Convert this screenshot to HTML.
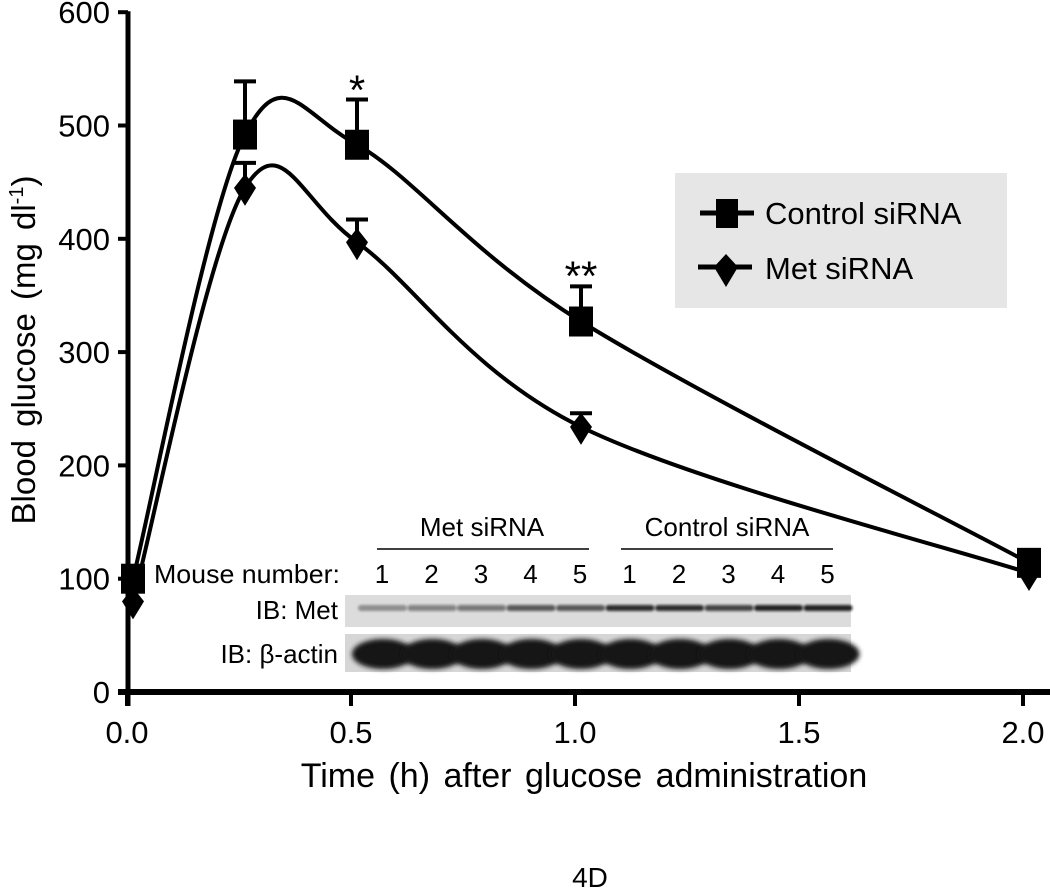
<!DOCTYPE html>
<html><head><meta charset="utf-8"><style>
html,body{margin:0;padding:0;background:#fff;}
svg{display:block;font-family:"Liberation Sans",Arial,sans-serif;}
</style></head><body>
<svg id="chart" width="1050" height="892" viewBox="0 0 1050 892">
<defs>
<filter id="blur1" x="-10%" y="-50%" width="120%" height="200%"><feGaussianBlur stdDeviation="1.4"/></filter>
<filter id="blur2" x="-10%" y="-50%" width="120%" height="200%"><feGaussianBlur stdDeviation="2.5"/></filter>
</defs>
<g id="axes"></g>
<g id="series"></g>
<g>
  <rect x="675" y="173" width="332" height="135" fill="#e6e6e6"/>
  <g>
    <line x1="700" y1="213" x2="754" y2="213" stroke="#000" stroke-width="5"/>
    <rect x="716" y="199" width="22" height="29" fill="#000"/>
    <text x="765" y="224" font-size="31">Control siRNA</text>
  </g>
  <g>
    <line x1="698" y1="267" x2="752" y2="267" stroke="#000" stroke-width="5"/>
    <path d="M726 254 L738 267 L726 287 L714 267 Z" fill="#000"/>
    <text x="765" y="279" font-size="31">Met siRNA</text>
  </g>
</g>
<g>
  <text x="482" y="536" font-size="26" text-anchor="middle">Met siRNA</text>
  <line x1="377" y1="549" x2="589" y2="549" stroke="#000" stroke-width="1.5"/>
  <text x="727" y="536" font-size="26" text-anchor="middle">Control  siRNA</text>
  <line x1="621" y1="549" x2="833" y2="549" stroke="#000" stroke-width="1.5"/>
  <text x="340" y="583" font-size="26" text-anchor="end" textLength="186" lengthAdjust="spacingAndGlyphs">Mouse number:</text>
  <g id="lanes"></g>
  <text x="338" y="619" font-size="26" text-anchor="end">IB: Met</text>
  <text x="338" y="663" font-size="26" text-anchor="end">IB: β-actin</text>
  <rect x="345" y="595" width="506" height="32" fill="#dcdcdc"/>
  <rect x="345" y="634" width="506" height="38" fill="#d6d6d6"/>
  <g id="bands"></g>
</g>
<text x="590" y="887" font-size="28" text-anchor="middle">4D</text>
</svg>
<script>
const times = [0, 0.25, 0.5, 1, 2];
const controlValues = [100, 492, 483, 327, 114];
const controlErr = [0, 47, 40, 31, 0];
const metValues = [80, 445, 397, 234, 105];
const metErr = [0, 22, 20, 12, 0];
const yTicks = [0, 100, 200, 300, 400, 500, 600];
const xTicks = [0, 0.5, 1, 1.5, 2];
const xTickLabels = ["0.0", "0.5", "1.0", "1.5", "2.0"];
const laneNumbers = ["1","2","3","4","5","1","2","3","4","5"];
const metBandIntensity = [0.35, 0.45, 0.5, 0.65, 0.65, 0.85, 0.85, 0.75, 0.9, 0.9];

const NS = "http://www.w3.org/2000/svg";
const X0 = 133, XS = 448, Y0 = 692, YS = 1.133;
function xs(t){ return X0 + t*XS; }
function ys(v){ return Y0 - v*YS; }
function mk(tag, attrs, parent){
  const e = document.createElementNS(NS, tag);
  for (const k in attrs) e.setAttribute(k, attrs[k]);
  parent.appendChild(e);
  return e;
}
const axes = document.getElementById('axes');
const series = document.getElementById('series');

let yl = mk('line', {x1:128, y1:ys(600)-1, x2:128, y2:ys(0)+14, stroke:'#000', 'stroke-width':5}, axes);


let xl = mk('line', {x1:118, y1:ys(0), x2:1050, y2:ys(0), stroke:'#000', 'stroke-width':6}, axes);


yTicks.forEach(v => {
  const tk = mk('line', {x1:118, y1:ys(v), x2:128, y2:ys(v), stroke:'#000', 'stroke-width':4}, axes);
  
  
  const t = mk('text', {x:110, y:ys(v)+11, 'font-size':31, 'text-anchor':'end'}, axes);
  t.textContent = String(v);
  
  
});
xTicks.forEach((v,i) => {
  const px = 127 + v*448;
  const tk = mk('line', {x1:px, y1:ys(0), x2:px, y2:ys(0)+14, stroke:'#000', 'stroke-width':4}, axes);
  
  
  const t = mk('text', {x:px, y:743, 'font-size':31, 'text-anchor':'middle'}, axes);
  t.textContent = xTickLabels[i];
  
  
});
let xt = mk('text', {x:584, y:787, 'font-size':34, 'text-anchor':'middle', 'word-spacing':'4'}, axes);
xt.textContent = 'Time (h) after glucose administration';


let ytt = mk('text', {x:0, y:0, 'font-size':33, 'text-anchor':'middle', 'word-spacing':'4', transform:'translate(35,350) rotate(-90)'}, axes);
ytt.innerHTML = 'Blood glucose (mg dl<tspan font-size="20" dy="-12">-1</tspan><tspan dy="12">)</tspan>';



function curvePath(vals){
  const pts = times.map((t,i)=>[xs(t), ys(vals[i])]);
  let d = `M${pts[0][0]},${pts[0][1]}`;
  for (let i=0;i<pts.length-1;i++){
    const p0 = pts[Math.max(0,i-1)], p1 = pts[i], p2 = pts[i+1], p3 = pts[Math.min(pts.length-1,i+2)];
    const k = 1/6;
    const c1 = [p1[0]+(p2[0]-p0[0])*k, p1[1]+(p2[1]-p0[1])*k];
    const c2 = [p2[0]-(p3[0]-p1[0])*k, p2[1]-(p3[1]-p1[1])*k];
    d += ` C${c1[0]},${c1[1]} ${c2[0]},${c2[1]} ${p2[0]},${p2[1]}`;
  }
  return d;
}
function drawSeries(vals, errs, shape, name){
  const p = mk('path', {d:curvePath(vals), fill:'none', stroke:'#000', 'stroke-width':4}, series);
  
  
  times.forEach((t,i) => {
    const cx = xs(t), cy = ys(vals[i]);
    if (errs[i] > 0){
      const ey = ys(vals[i]+errs[i]);
      const e = mk('path', {d:`M${cx},${cy} L${cx},${ey} M${cx-11},${ey} L${cx+11},${ey}`, stroke:'#000', 'stroke-width':4, fill:'none'}, series);
      
      
    }
    let m;
    if (shape === 'square'){
      m = mk('rect', {x:cx-12, y:cy-15, width:24, height:30, fill:'#000'}, series);
    } else {
      m = mk('path', {d:`M${cx},${cy-14} L${cx+11},${cy} L${cx},${cy+18} L${cx-11},${cy} Z`, fill:'#000'}, series);
    }
    
    
  });
}
drawSeries(metValues, metErr, 'diamond', 'met-sirna');
drawSeries(controlValues, controlErr, 'square', 'control-sirna');

let s1 = mk('text', {x:xs(times[2]), y:ys(controlValues[2]+controlErr[2])+5, 'font-size':42, 'text-anchor':'middle'}, series);
s1.textContent = '*';


let s2 = mk('text', {x:xs(times[3]), y:ys(controlValues[3]+controlErr[3])+4, 'font-size':42, 'text-anchor':'middle'}, series);
s2.textContent = '**';



const lanes = document.getElementById('lanes');
const bands = document.getElementById('bands');
laneNumbers.forEach((n,i) => {
  const cx = 382 + i*49.5;
  const t = mk('text', {x:cx, y:583, 'font-size':26, 'text-anchor':'middle'}, lanes);
  t.textContent = n;
  
  
  const a = metBandIntensity[i];
  const b = mk('rect', {x:cx-24, y:605, width:49, height:6, rx:3, fill:`rgba(15,15,15,${a})`, filter:'url(#blur1)'}, bands);
  
  
  const c = mk('ellipse', {cx:cx+1, cy:654, rx:31, ry:15, fill:'#151515', filter:'url(#blur2)'}, bands);
  
  
});
</script>
</body></html>
